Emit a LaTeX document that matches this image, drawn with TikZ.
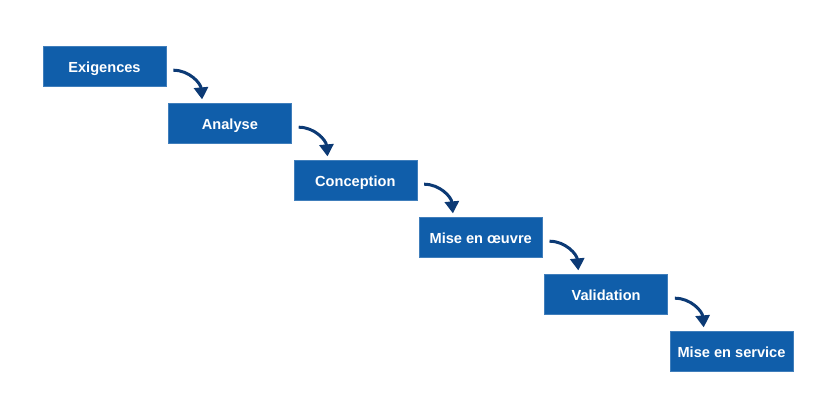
\documentclass[tikz,border=0pt]{standalone}
\usepackage{fontspec}
\setmainfont{Liberation Sans}
\usetikzlibrary{arrows.meta}
\definecolor{phasebleu}{RGB}{16,94,170}
\definecolor{flechebleu}{RGB}{12,58,117}
\tikzset{
  phase/.style={fill=phasebleu, draw=phasebleu!80!white, line width=0.6pt, minimum width=123pt,
    minimum height=40pt, inner sep=0pt, text height=11pt, text depth=0pt, text=white,
    font=\bfseries\fontsize{14.6}{17}\selectfont},
  suite/.style={draw=flechebleu, line width=3pt, -{Triangle[width=14pt,length=12pt]}}
}

\begin{document}
\begin{tikzpicture}[x=1pt,y=-1pt]
        \useasboundingbox (0,0) rectangle (837,418);
        \node[phase] (p1) at (104.5,66.7) {Exigences};
        \node[phase] (p2) at (229.9,123.7) {Analyse};
        \node[phase] (p3) at (355.3,180.7) {Conception};
        \node[phase] (p4) at (480.7,237.7) {Mise en œuvre};
        \node[phase] (p5) at (606.1,294.7) {Validation};
        \node[phase] (p6) at (731.5,351.7) {Mise en service};
        \foreach \a/\b in {p1/p2,p2/p3,p3/p4,p4/p5,p5/p6}
            \draw[suite] ([xshift=7pt,yshift=-3.5pt]\a.east) to[out=0,in=95] ([xshift=34pt,yshift=4pt]\b.north west);
    \end{tikzpicture}
\end{document}
